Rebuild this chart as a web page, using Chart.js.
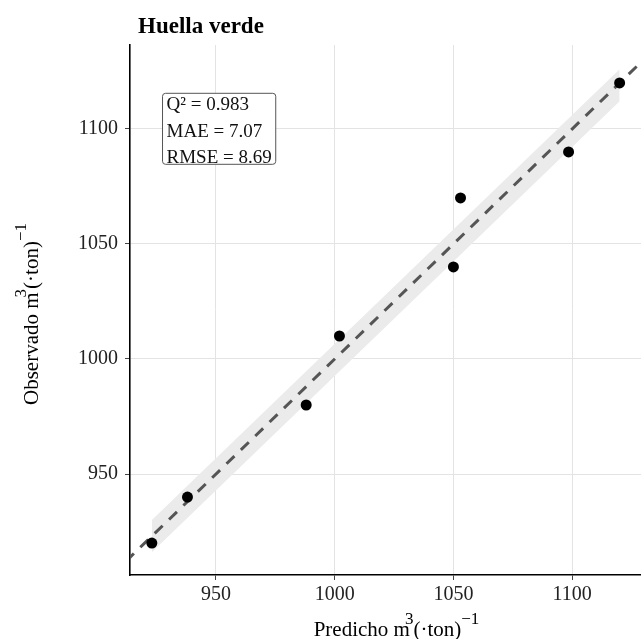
<!DOCTYPE html>
<html>
<head>
<meta charset="utf-8">
<script src="https://cdn.jsdelivr.net/npm/chart.js@4.4.1/dist/chart.umd.min.js"></script>
<style>
  html, body { margin: 0; padding: 0; background: #fff; }
  #wrap { width: 641px; height: 639px; }
</style>
</head>
<body>
<div id="wrap"><canvas id="myChart" width="641" height="639"></canvas></div>

<script>
    // valores
    const predicho  = [923, 938, 988, 1002, 1050, 1053, 1098.5, 1120];
    const observado = [920, 940, 980, 1010, 1040, 1070, 1090, 1120];
    const xTicks = [950, 1000, 1050, 1100];
    const yTicks = [950, 1000, 1050, 1100];

    // banda gris (inicio / fin)
    const bandaX    = [923, 1120];
    const bandaLow  = [916, 1112];
    const bandaHigh = [930, 1126];

    // linea 1:1
    const lineaRef = [900, 1140];

    const statsLines = ["Q² = 0.983", "MAE = 7.07", "RMSE = 8.69"];
    const statsAnchor = [927.5, 1115.5];

    const serif = '"Liberation Serif", "Times New Roman", serif';

    function drawRich(ctx, parts, cx, cy, angle) {
        // parts: [texto, tamaño, subida, desplazamiento x]
        ctx.save();
        ctx.translate(cx, cy);
        ctx.rotate(angle);
        let total = 0;
        parts.forEach(p => {
            ctx.font = p[1] + "px " + serif;
            total += ctx.measureText(p[0]).width + (p[3] || 0);
        });
        let x = -total / 2;
        ctx.fillStyle = "#000";
        ctx.textBaseline = "alphabetic";
        ctx.textAlign = "left";
        parts.forEach(p => {
            ctx.font = p[1] + "px " + serif;
            x += (p[3] || 0);
            ctx.fillText(p[0], x, -p[2]);
            x += ctx.measureText(p[0]).width;
        });
        ctx.restore();
    }

    const textos = {
        id: "textos",
        afterDatasetsDraw(chart) {
            const ctx = chart.ctx;
            const area = chart.chartArea;
            const xs = chart.scales.x, ys = chart.scales.y;

            // titulo
            ctx.save();
            ctx.font = "bold 23px " + serif;
            ctx.fillStyle = "#000";
            ctx.textBaseline = "alphabetic";
            ctx.fillText("Huella verde", area.left + 8, 33);
            ctx.restore();

            // cuadro de estadisticos
            ctx.save();
            ctx.font = "19px " + serif;
            let w = 0;
            statsLines.forEach(t => { w = Math.max(w, ctx.measureText(t).width); });
            const bx = xs.getPixelForValue(statsAnchor[0]);
            const by = ys.getPixelForValue(statsAnchor[1]);
            const bw = w + 8, bh = 71;
            ctx.beginPath();
            ctx.roundRect(bx, by, bw, bh, 3);
            ctx.fillStyle = "#fff";
            ctx.fill();
            ctx.lineWidth = 1;
            ctx.strokeStyle = "#555";
            ctx.stroke();
            ctx.fillStyle = "#111";
            statsLines.forEach((t, i) => {
                ctx.fillText(t, bx + 4, by + 17 + i * 26.5);
            });
            ctx.restore();

            // titulos de ejes
            const cx = (area.left + area.right) / 2 + 11;
            drawRich(ctx, [["Predicho m", 21, 0], ["3", 17, 12, -5], ["(·ton)", 21, 0], ["\u22121", 17, 12]],
                cx, 636, 0);
            drawRich(ctx, [["Observado m", 21, 0], ["3", 17, 12, -5], ["(·ton)", 21, 0], ["\u22121", 17, 12]],
                38, 314, -Math.PI / 2);
        }
    };

    const myChart = document.getElementById("myChart");
    const chart = new Chart(myChart, {
        type: "line",
        data: {
            datasets: [
                {
                    data: predicho.map((v, i) => ({ x: v, y: observado[i] })),
                    showLine: false,
                    pointRadius: 5.5,
                    pointBackgroundColor: "#000",
                    pointBorderColor: "#000",
                    pointBorderWidth: 0
                },
                {
                    data: lineaRef.map(v => ({ x: v, y: v })),
                    borderColor: "#555",
                    borderWidth: 3,
                    borderDash: [11, 9],
                    pointRadius: 0,
                    fill: false
                },
                {
                    data: bandaX.map((v, i) => ({ x: v, y: bandaLow[i] })),
                    borderWidth: 0,
                    pointRadius: 0,
                    fill: false
                },
                {
                    data: bandaX.map((v, i) => ({ x: v, y: bandaHigh[i] })),
                    borderWidth: 0,
                    pointRadius: 0,
                    fill: "-1",
                    backgroundColor: "#ebebeb"
                }
            ]
        },
        options: {
            responsive: false,
            animation: false,
            layout: { autoPadding: false, padding: { top: 45, left: 0, right: 0, bottom: 0 } },
            plugins: {
                legend: { display: false },
                tooltip: { enabled: false },
                title: { display: false }
            },
            scales: {
                x: {
                    type: "linear",
                    min: 913.8,
                    max: 1129,
                    afterFit: s => { s.height = 64; s.paddingLeft = 0; s.paddingRight = 0; },
                    afterBuildTicks: s => { s.ticks = xTicks.map(v => ({ value: v })); },
                    grid: { color: "#e3e3e3", lineWidth: 1, tickLength: 5, tickColor: "#444" },
                    border: { display: true, color: "#000", width: 1.6 },
                    ticks: {
                        padding: 3,
                        color: "#222",
                        font: { family: serif, size: 20 },
                        callback: v => String(v)
                    }
                },
                y: {
                    type: "linear",
                    min: 906.1,
                    max: 1136.5,
                    afterFit: s => { s.width = 130; s.paddingTop = 0; s.paddingBottom = 0; },
                    afterBuildTicks: s => { s.ticks = yTicks.map(v => ({ value: v })); },
                    grid: { color: "#e3e3e3", lineWidth: 1, tickLength: 5, tickColor: "#444" },
                    border: { display: true, color: "#000", width: 1.6 },
                    ticks: {
                        padding: 7,
                        color: "#222",
                        font: { family: serif, size: 20 },
                        callback: v => String(v)
                    }
                }
            }
        },
        plugins: [textos]
    });
</script>
</body>
</html>
